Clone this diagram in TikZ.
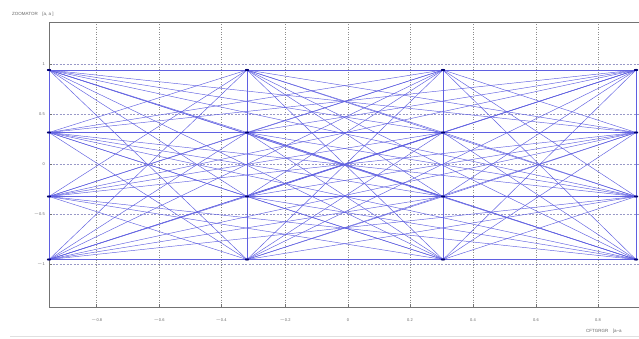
\documentclass[tikz,border=0pt]{standalone}
\usepackage{fontspec}
\setmainfont{Liberation Sans}
\definecolor{edgeblue}{RGB}{95,95,225}
\begin{document}
\begin{tikzpicture}[x=1pt,y=-1pt,
  frame/.style={draw=black!55,line width=0.9pt},
  vgrid/.style={draw=black!45,line width=0.4pt,dash pattern=on 1pt off 1.5pt},
  hgrid/.style={draw=blue!45!black!40,line width=0.5pt,dash pattern=on 2pt off 1.5pt},
  edge/.style={draw=edgeblue,line width=0.45pt},
  ticklab/.style={font=\fontsize{4}{5}\selectfont,text=black!60,inner sep=0pt},
  cornerlab/.style={font=\fontsize{4.5}{5}\selectfont,text=black!60,inner sep=0pt,anchor=west}]
\useasboundingbox (0,0) rectangle (639,339);
\fill[white] (0,0) rectangle (639,339);
% vertical grid
\foreach \x/\l in {96.6/{$-$0.8},159/{$-$0.6},221/{$-$0.4},285/{$-$0.2},348/0,410/0.2,473/0.4,536/0.6,598/0.8}{
  \draw[vgrid] (\x,22) -- (\x,307);
  \draw[black!55,line width=0.5pt] (\x,307) -- (\x,304);
  \node[ticklab] at (\x,320) {\l};
}
% horizontal grid
\foreach \y/\l in {64.3/1,114.3/0.5,164.3/0,214.3/{$-$0.5},264.3/{$-$1}}{
  \draw[hgrid] (49,\y) -- (639,\y);
  \draw[black!55,line width=0.5pt] (49,\y) -- (52,\y);
  \node[ticklab,anchor=east] at (45,\y) {\l};
}
% frame
\draw[frame] (639,22) -- (49,22) -- (49,307) -- (639,307);
% node positions
\foreach \c/\x in {0/49,1/247,2/443,3/636}{
  \foreach \r/\y in {0/70,1/132.5,2/196.5,3/259.5}{
    \pgfmathtruncatemacro{\k}{4*\c+\r+1}
    \coordinate (n\k) at (\x,\y);
  }
}
% complete graph
\foreach \a in {1,...,16}{
  \foreach \b in {1,...,16}{
    \ifnum\a<\b \draw[edge] (n\a) -- (n\b); \fi
  }
}
\foreach \k in {1,...,16}{
  \fill[blue!45!black] (n\k) ellipse (2.2 and 1.1);
}
% corner texts
\node[cornerlab] (tl) at (12,14) {ZOOMATOR\quad [a, a ]};
\node[cornerlab] (br) at (586,331) {CFTGRGR\quad [a--a};
\draw[black!12,line width=0.8pt] (10,336) -- (639,336);
\end{tikzpicture}
\end{document}
